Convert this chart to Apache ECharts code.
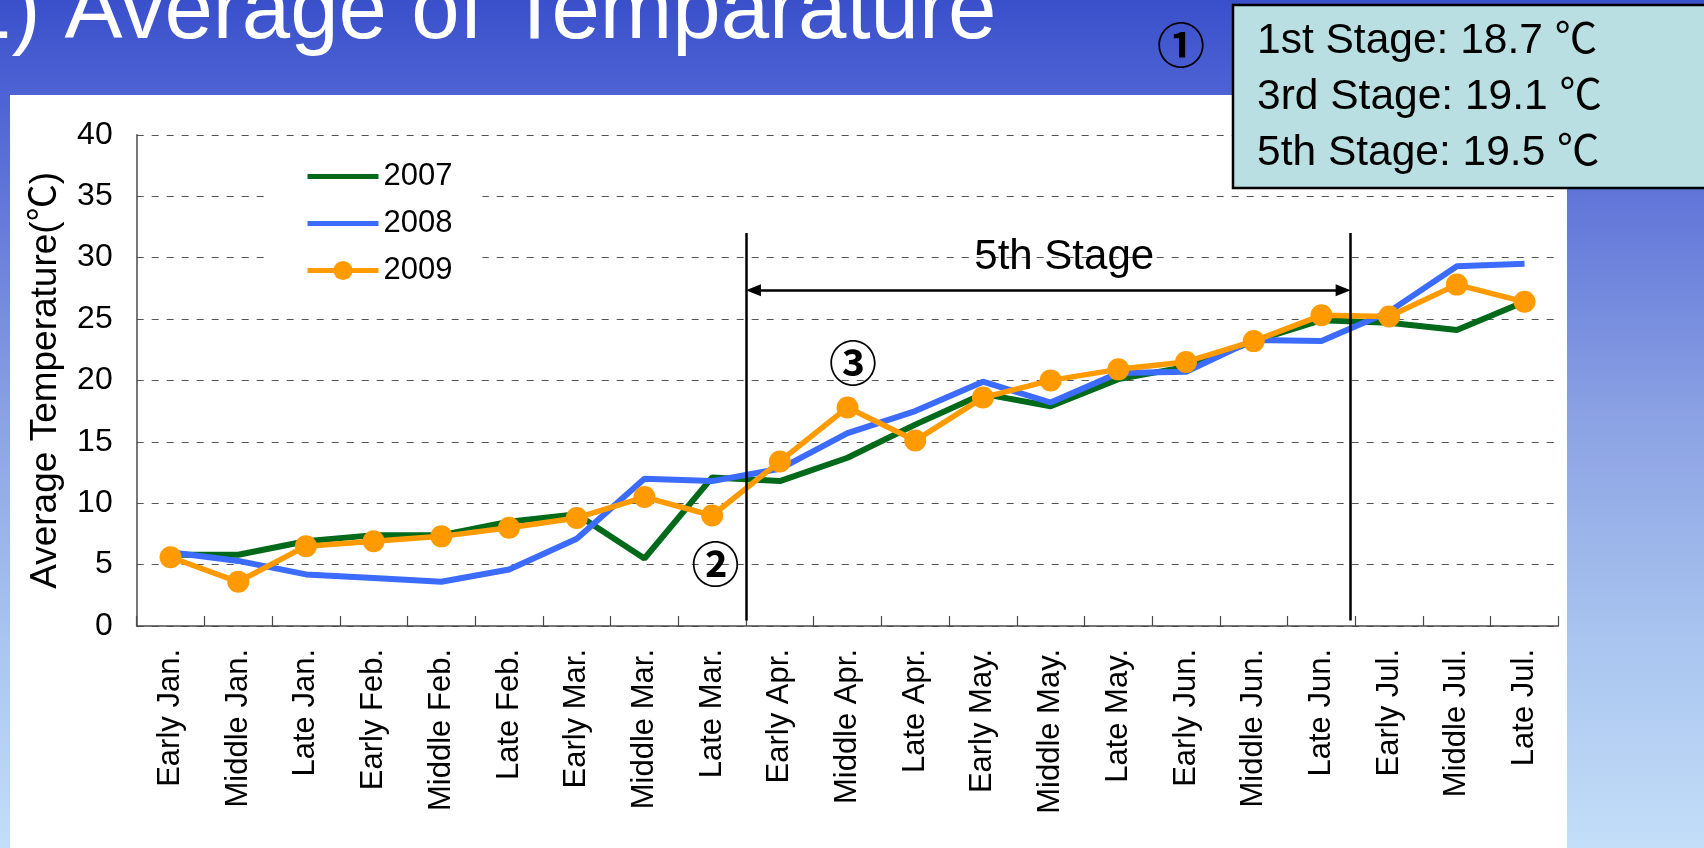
<!DOCTYPE html>
<html>
<head>
<meta charset="utf-8">
<script src="https://cdn.jsdelivr.net/npm/echarts@6/dist/echarts.min.js"></script>
<style>
html,body{margin:0;padding:0;background:#fff;}
#chart{width:1704px;height:848px;}
</style>
</head>
<body>
<div id="chart"></div>
<script>
// ---------- data ----------
const categories = ['Early Jan.','Middle Jan.','Late Jan.','Early Feb.','Middle Feb.','Late Feb.',
  'Early Mar.','Middle Mar.','Late Mar.','Early Apr.','Middle Apr.','Late Apr.',
  'Early May.','Middle May.','Late May.','Early Jun.','Middle Jun.','Late Jun.',
  'Early Jul.','Middle Jul.','Late Jul.'];
const temp2007 = [5.8, 5.8, 6.9, 7.4, 7.4, 8.5, 9.1, 5.5, 12.1, 11.8, 13.7, 16.4, 18.9, 17.9, 20.1, 21.1, 23.2, 24.9, 24.7, 24.1, 26.4];
const temp2008 = [6.0, 5.3, 4.2, 3.9, 3.6, 4.6, 7.1, 12.0, 11.8, 12.8, 15.7, 17.5, 19.9, 18.2, 20.6, 20.7, 23.3, 23.2, 25.6, 29.3, 29.5];
const temp2009 = [5.6, 3.6, 6.5, 6.9, 7.3, 8.0, 8.8, 10.5, 9.0, 13.4, 17.8, 15.1, 18.6, 20.0, 20.9, 21.5, 23.2, 25.3, 25.2, 27.8, 26.4];
const seriesNames = ['2007', '2008', '2009'];
const stageSummary = ['1st Stage: 18.7 \u2103', '3rd Stage: 19.1 \u2103', '5th Stage: 19.5 \u2103'];
const titleText = '1) Average of Temparature';
const yAxisTitle = 'Average Temperature(\u2103)';
const stageLabel = '5th Stage';
const circledMarks = ['\u2460', '\u2461', '\u2462'];
// stage boundaries / annotation anchors in axis units (category slots on x, degrees on y)
const stageStart = 9;
const stageEnd = 17.93;
const stageLineLow = 0.45, stageLineHigh = 32.0;
const arrowLevel = 27.35;
const stageLabelPos = [13.7, 30.0];
const mark2Pos = [8.55, 5.05];
const mark3Pos = [10.58, 21.45];

// ---------- style ----------
const FONT = '"Liberation Sans", Arial, "Noto Sans CJK JP", sans-serif';
const CJK = '"Noto Sans CJK JP", "Liberation Sans", sans-serif';
const C2007 = '#00691a', C2008 = '#3c6cff', C2009 = '#ff9b00';

const chart = echarts.init(document.getElementById('chart'), null, {renderer: 'canvas'});

const arrowInset = 0.11;

const option = {
  animation: false,
  textStyle: {fontFamily: FONT, color: '#000'},
  grid: {left: 136.7, right: 145.6, top: 134.8, bottom: 222, containLabel: false},
  legend: {
    data: [
      {name: '2007', icon: 'path://M0,0H71V5H0Z', itemStyle: {borderWidth: 0}},
      {name: '2008', icon: 'path://M0,0H71V5H0Z', itemStyle: {borderWidth: 0}},
      {name: '2009', lineStyle: {width: 5}}
    ],
    orient: 'vertical',
    left: 270, top: 151,
    padding: [10, 30, 13, 35],
    backgroundColor: '#fff',
    itemWidth: 71, itemHeight: 24, itemGap: 16,
    textStyle: {fontSize: 31, color: '#000', fontFamily: FONT},
    selectedMode: false
  },
  xAxis: [{
    type: 'category',
    data: categories,
    boundaryGap: true,
    axisLine: {lineStyle: {color: '#4a4a4a', width: 1.5}},
    axisTick: {show: true, inside: true, length: 10, interval: 0, lineStyle: {color: '#4a4a4a', width: 1.2}},
    axisLabel: {rotate: 90, interval: 0, fontSize: 31, margin: 23, color: '#000', fontFamily: FONT},
    splitLine: {show: false}
  }, {
    type: 'value', min: 0, max: 21, show: false,
    splitLine: {show: false}
  }],
  yAxis: {
    type: 'value', min: 0, max: 40, interval: 5,
    name: yAxisTitle, nameLocation: 'middle', nameGap: 72.5,
    nameTextStyle: {fontSize: 37, color: '#000', fontFamily: FONT},
    axisLine: {show: true, lineStyle: {color: '#4a4a4a', width: 1.5}},
    axisTick: {show: false},
    axisLabel: {fontSize: 32, margin: 24, color: '#000', fontFamily: FONT},
    splitLine: {show: true, lineStyle: {color: '#555', width: 1, type: [7, 8]}}
  },
  series: [
    {name: seriesNames[0], type: 'line', data: temp2007, symbol: 'none',
     lineStyle: {color: C2007, width: 6}, itemStyle: {color: C2007}, z: 2},
    {name: seriesNames[1], type: 'line', data: temp2008, symbol: 'none',
     lineStyle: {color: C2008, width: 6}, itemStyle: {color: C2008}, z: 3},
    {name: seriesNames[2], type: 'line', data: temp2009, symbol: 'circle', symbolSize: 22,
     lineStyle: {color: C2009, width: 5.5}, itemStyle: {color: C2009}, z: 4},
    {
      name: 'annotations', type: 'line', xAxisIndex: 1, data: [], silent: true, z: 5,
      markLine: {
        silent: true, symbol: ['none', 'none'], animation: false,
        label: {show: false},
        lineStyle: {color: '#000', width: 2.5, type: 'solid'},
        emphasis: {disabled: true},
        data: [
          [{coord: [stageStart, stageLineLow]}, {coord: [stageStart, stageLineHigh]}],
          [{coord: [stageEnd, stageLineLow]}, {coord: [stageEnd, stageLineHigh]}],
          [{coord: [stageStart + arrowInset, arrowLevel], symbol: 'triangle', symbolSize: [12, 15]},
           {coord: [stageEnd - arrowInset, arrowLevel], symbol: 'triangle', symbolSize: [12, 15]}]
        ]
      },
      markPoint: {
        silent: true, symbol: 'circle', symbolSize: 0, animation: false,
        itemStyle: {color: 'rgba(0,0,0,0)'},
        label: {show: true, position: 'inside', color: '#000', formatter: '{b}'},
        data: [
          {name: stageLabel, coord: stageLabelPos, label: {fontSize: 42, fontFamily: FONT}},
          {name: circledMarks[1], coord: mark2Pos, label: {fontSize: 48, fontWeight: 'bold', fontFamily: CJK}},
          {name: circledMarks[2], coord: mark3Pos, label: {fontSize: 48, fontWeight: 'bold', fontFamily: CJK}}
        ]
      }
    }
  ],
  graphic: [
    {type: 'rect', z: -100, silent: true, shape: {x: 0, y: 0, width: 1704, height: 848},
     style: {fill: new echarts.graphic.LinearGradient(0, 0, 0, 1, [
       {offset: 0, color: '#3a50cb'},
       {offset: 0.12, color: '#4f64d4'},
       {offset: 0.25, color: '#6479d9'},
       {offset: 0.5, color: '#8ca3e4'},
       {offset: 0.75, color: '#a9c4ef'},
       {offset: 1, color: '#c2def8'}
     ])}},
    {type: 'rect', z: -90, silent: true, shape: {x: 10, y: 95, width: 1557, height: 760}, style: {fill: '#fff'}},
    {type: 'text', z: 100, silent: true, style: {text: titleText, x: -37, y: 14, fill: '#fff',
      font: '87px ' + FONT, verticalAlign: 'middle', align: 'left'}},
    {type: 'text', z: 100, silent: true, style: {text: circledMarks[0], x: 1181, y: 45, fill: '#000',
      font: 'bold 48px ' + CJK, verticalAlign: 'middle', align: 'center'}},
    {type: 'rect', z: 100, silent: true, shape: {x: 1233, y: 5, width: 520, height: 183},
     style: {fill: '#b9dfe2', stroke: '#000', lineWidth: 2.5}}
  ].concat(stageSummary.map((t, i) => ({
    type: 'text', z: 101, silent: true,
    style: {text: t, x: 1257, y: 41 + i * 56, fill: '#000', font: '42.5px ' + FONT, verticalAlign: 'middle', align: 'left'}
  })))
};

chart.setOption(option);
</script>
</body>
</html>
